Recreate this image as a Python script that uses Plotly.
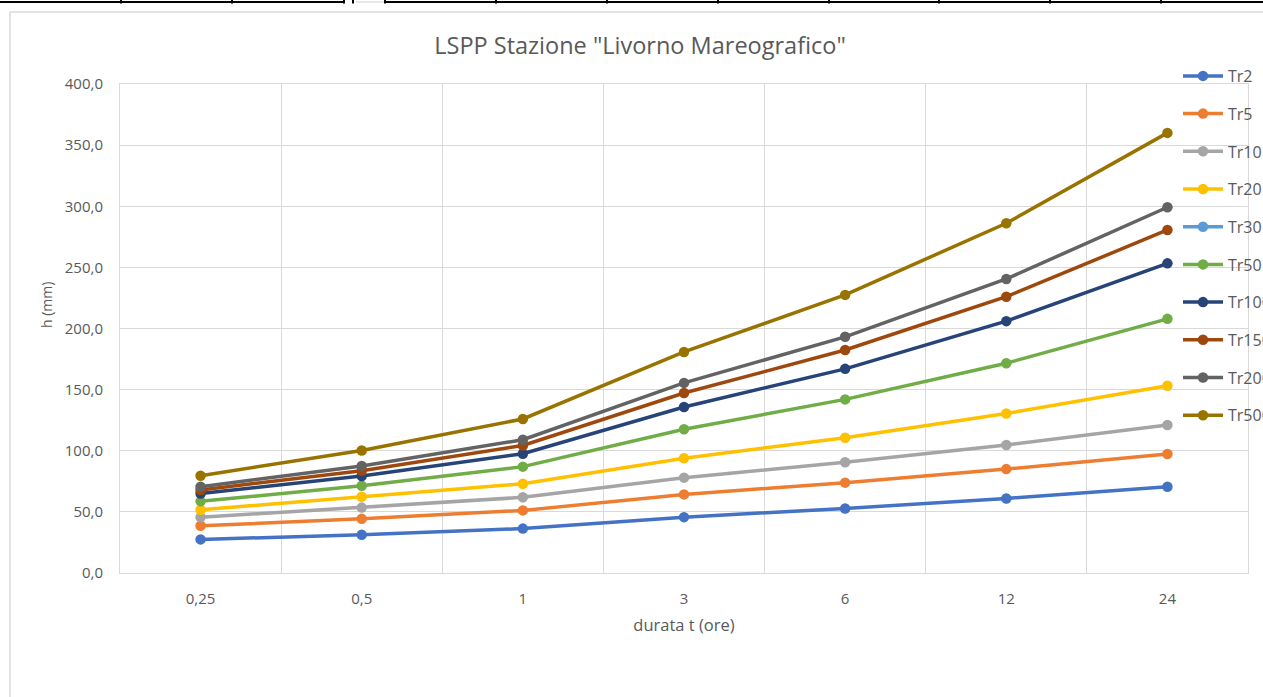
import plotly.graph_objects as go

# Rainfall depth-duration curves (LSPP) for the Livorno tide-gauge station
durations = ["0,25", "0,5", "1", "3", "6", "12", "24"]

tr2 = [27.5, 31.2, 36.3, 45.7, 52.8, 61.0, 70.6]
tr5 = [38.6, 44.3, 51.2, 64.3, 73.9, 85.0, 97.4]
tr10 = [45.6, 53.5, 61.9, 78.0, 90.6, 104.7, 121.1]
tr20 = [51.7, 62.4, 73.0, 93.9, 110.7, 130.5, 153.2]
tr30 = [None, None, None, None, None, None, None]
tr50 = [58.6, 71.4, 87.0, 117.6, 142.0, 171.6, 207.9]
tr100 = [65.1, 79.3, 97.6, 135.8, 167.0, 206.0, 253.3]
tr150 = [67.9, 83.7, 104.3, 147.2, 182.4, 226.0, 280.6]
tr200 = [70.6, 87.6, 109.0, 155.5, 193.2, 240.5, 299.2]
tr500 = [79.6, 100.2, 126.0, 180.8, 227.5, 286.1, 360.0]

series_names = ["Tr2", "Tr5", "Tr10", "Tr20", "Tr30", "Tr50", "Tr100", "Tr150", "Tr200", "Tr500"]
series_values = [tr2, tr5, tr10, tr20, tr30, tr50, tr100, tr150, tr200, tr500]
series_colors = ["#4472C4", "#ED7D31", "#A5A5A5", "#FFC000", "#5B9BD5",
                 "#70AD47", "#264478", "#9E480E", "#636363", "#997300"]

y_ticks = [0, 50, 100, 150, 200, 250, 300, 350, 400]

W, H = 1263, 697
ML, MR, MT, MB = 120, 15, 84, 124
PW, PH = W - ML - MR, H - MT - MB


def px_x(px):
    return (px - ML) / PW


def px_y(py):
    return (H - MB - py) / PH


fig = go.Figure()
for name, vals, col in zip(series_names, series_values, series_colors):
    fig.add_trace(go.Scatter(
        x=durations, y=vals, name=name, mode="lines+markers",
        legendgroup=name,
        line=dict(color=col, width=3.5),
        marker=dict(color=col, size=10.5),
    ))

text_col = "#595959"
grid_col = "#D9D9D9"
font_family = "Open Sans, Noto Sans, sans-serif"

shapes = []
# outer chart frame
shapes.append(dict(type="rect", xref="paper", yref="paper",
                   x0=px_x(10), x1=px_x(1300), y0=px_y(12), y1=px_y(760),
                   line=dict(color=grid_col, width=1.5), layer="below"))
# worksheet cell borders visible along the top edge
shapes.append(dict(type="line", xref="paper", yref="paper",
                   x0=px_x(0), x1=px_x(345), y0=px_y(2), y1=px_y(2),
                   line=dict(color="black", width=2)))
shapes.append(dict(type="line", xref="paper", yref="paper",
                   x0=px_x(384), x1=px_x(1270), y0=px_y(2), y1=px_y(2),
                   line=dict(color="black", width=2)))
shapes.append(dict(type="line", xref="paper", yref="paper",
                   x0=px_x(356), x1=px_x(384), y0=px_y(2), y1=px_y(2),
                   line=dict(color="#D0D0D0", width=1)))
for cx in [121, 232, 344, 353, 385, 496, 607, 718, 829, 939, 1050, 1161]:
    shapes.append(dict(type="line", xref="paper", yref="paper",
                       x0=px_x(cx), x1=px_x(cx), y0=px_y(-1), y1=px_y(3.5),
                       line=dict(color="black", width=2)))

fig.update_layout(
    width=W, height=H,
    margin=dict(l=ML, r=MR, t=MT, b=MB, pad=0, autoexpand=False),
    paper_bgcolor="white", plot_bgcolor="white",
    separators=",.",
    font=dict(family=font_family, color=text_col, size=15),
    title=dict(text='LSPP Stazione "Livorno Mareografico"',
               x=px_x(640), xref="paper", xanchor="center",
               y=1 - 46 / H, yanchor="middle",
               font=dict(size=23.5, color=text_col)),
    xaxis=dict(type="category", tickson="boundaries", range=[-0.5, 6.5],
               showgrid=True, gridcolor=grid_col, gridwidth=1,
               showline=True, linecolor=grid_col, linewidth=1, mirror=True,
               ticks="", ticklabelstandoff=12,
               tickfont=dict(size=15, color=text_col),
               title=dict(text="durata t (ore)", standoff=12,
                          font=dict(size=16.5, color=text_col)),
               zeroline=False),
    yaxis=dict(range=[0, 400], tickvals=y_ticks, tickformat=".1f",
               showgrid=True, gridcolor=grid_col, gridwidth=1,
               showline=True, linecolor=grid_col, linewidth=1, mirror=True,
               ticks="", ticklabelstandoff=13,
               tickfont=dict(size=15, color=text_col),
               zeroline=False),
    legend=dict(x=px_x(1178), xanchor="left", y=px_y(59), yanchor="top",
                bgcolor="rgba(0,0,0,0)", borderwidth=0,
                font=dict(size=16, color=text_col),
                tracegroupgap=13.9, itemwidth=40, traceorder="grouped",
                maxheight=600),
    shapes=shapes,
    annotations=[dict(text="h (mm)", xref="paper", yref="paper",
                      x=px_x(46), y=px_y(305), xanchor="center", yanchor="middle",
                      textangle=-90, showarrow=False,
                      font=dict(size=14, color=text_col))],
)

fig.write_html("out.html")
